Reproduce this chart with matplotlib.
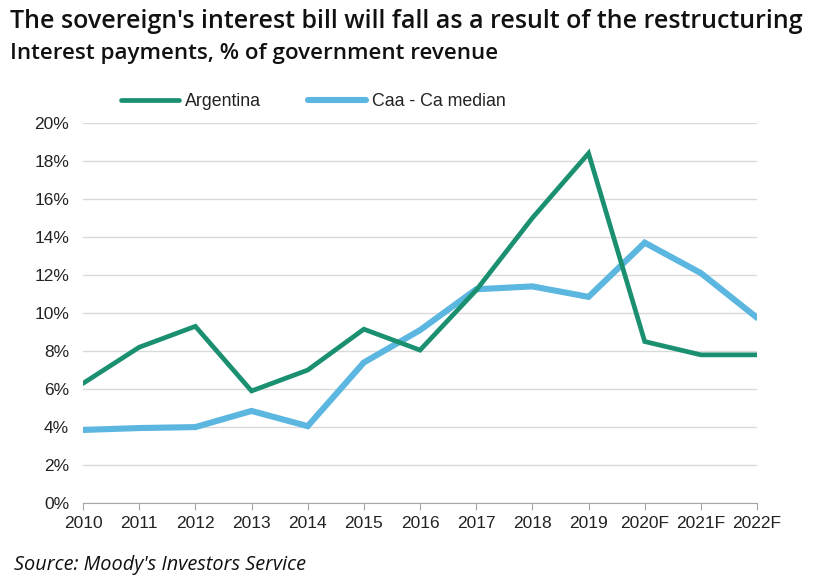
import matplotlib
matplotlib.use("Agg")
import matplotlib.pyplot as plt
import numpy as np

years = ["2010", "2011", "2012", "2013", "2014", "2015", "2016", "2017",
         "2018", "2019", "2020F", "2021F", "2022F"]
argentina = [6.3, 8.2, 9.3, 5.9, 7.0, 9.15, 8.05, 11.2, 15.0, 18.4, 8.5, 7.8, 7.8]
caa_median = [3.85, 3.95, 4.0, 4.85, 4.05, 7.4, 9.1, 11.25, 11.4, 10.85, 13.7, 12.1, 9.75]
yticks = [0, 2, 4, 6, 8, 10, 12, 14, 16, 18, 20]

green = "#1b9070"
blue = "#5bb6e0"

fig = plt.figure(figsize=(8.22, 5.77), dpi=100)
ax = fig.add_axes([0.101, 0.128, 0.820, 0.659])

x = np.arange(len(years))
l1, = ax.plot(x, argentina, color=green, lw=3.4, solid_joinstyle="miter",
              solid_capstyle="round", label="Argentina", zorder=3)
l2, = ax.plot(x, caa_median, color=blue, lw=4.4, solid_joinstyle="miter",
              solid_capstyle="round", label="Caa - Ca median", zorder=2)

ax.set_xlim(0, len(years) - 1)
ax.set_ylim(0, 20)
ax.set_yticks(yticks)
ax.set_yticklabels([f"{v}%" for v in yticks])
ax.set_xticks(x)
ax.set_xticklabels(years)

fam = ["Liberation Sans Narrow", "Liberation Sans", "DejaVu Sans"]
for lab in ax.get_xticklabels():
    lab.set_fontfamily(fam)
    lab.set_fontsize(12.5)
    lab.set_color("#222222")
for lab in ax.get_yticklabels():
    lab.set_fontfamily(fam)
    lab.set_fontsize(12.5)
    lab.set_color("#222222")

ax.grid(axis="y", color="#d9d9d9", lw=1)
ax.set_axisbelow(True)
for s in ["top", "right", "left"]:
    ax.spines[s].set_visible(False)
ax.spines["bottom"].set_color("#a6a6a6")
ax.tick_params(axis="y", length=0, pad=10)
ax.tick_params(axis="x", length=5, color="#a6a6a6", pad=4)

leg = ax.legend(handles=[l1, l2], loc="lower left", bbox_to_anchor=(0.032, 0.992),
                ncol=2, frameon=False, handlelength=3.3, columnspacing=2.65,
                handletextpad=0.3, prop={"family": ["Liberation Sans", "DejaVu Sans"], "size": 12.8})
for t in leg.get_texts():
    t.set_color("#222222")

fig.text(0.012, 0.962, "The sovereign's interest bill will fall as a result of the restructuring",
         fontsize=18.0, fontweight="semibold", family=["Open Sans", "DejaVu Sans"],
         color="#111111", va="center", ha="left")
fig.text(0.012, 0.907, "Interest payments, % of government revenue",
         fontsize=16.1, fontweight="semibold", family=["Open Sans", "DejaVu Sans"],
         color="#111111", va="center", ha="left")
fig.text(0.017, 0.021, "Source: Moody's Investors Service",
         fontsize=14.3, style="italic", family=["Open Sans", "DejaVu Sans"],
         color="#111111", va="center", ha="left")

fig.savefig("out.png", dpi=100)
